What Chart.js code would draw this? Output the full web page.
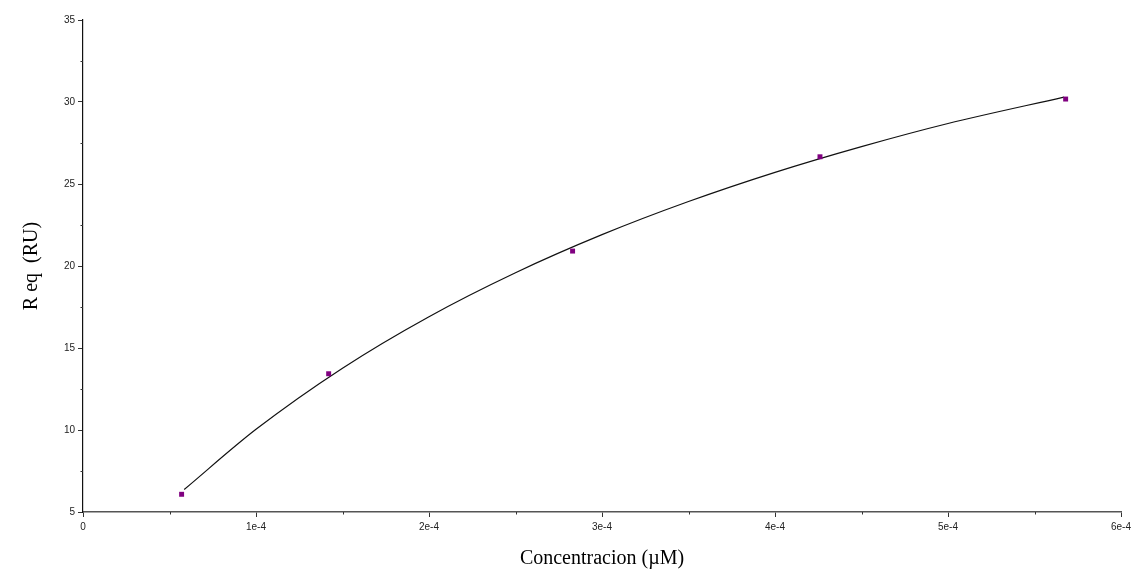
<!DOCTYPE html>
<html>
<head>
<meta charset="utf-8">
<script src="https://cdn.jsdelivr.net/npm/chart.js@4"></script>
<style>
html,body{margin:0;padding:0;background:#fff;}
#wrap{width:1132px;height:574px;position:relative;}
</style>
</head>
<body>
<div id="wrap"><canvas id="c" width="1132" height="574"></canvas></div>
<script>
// Measured data points (concentration in M, response in RU)
const pointX = [0.57e-4, 1.42e-4, 2.83e-4, 4.26e-4, 5.68e-4];
const pointY = [6.08, 13.43, 20.91, 26.66, 30.18];
// Fitted curve
const curveX = [0.585e-4, 1e-4, 1.5e-4, 2e-4, 2.5e-4, 3e-4, 3.5e-4, 4e-4, 4.5e-4, 5e-4, 5.67e-4];
const curveY = [6.37, 10.04, 13.77, 16.91, 19.59, 21.91, 23.93, 25.71, 27.28, 28.69, 30.3];
// Axis ticks
const xTicks = [0, 1e-4, 2e-4, 3e-4, 4e-4, 5e-4, 6e-4];
const xTickLabels = ['0', '1e-4', '2e-4', '3e-4', '4e-4', '5e-4', '6e-4'];
const xMinor = [0.5e-4, 1.5e-4, 2.5e-4, 3.5e-4, 4.5e-4, 5.5e-4];
const yTicks = [5, 10, 15, 20, 25, 30, 35];
const yMinor = [7.5, 12.5, 17.5, 22.5, 27.5, 32.5];

const minorTicks = {
  id: 'minorTicks',
  afterDraw(chart) {
    const ctx = chart.ctx, xs = chart.scales.x, ys = chart.scales.y;
    ctx.save();
    ctx.strokeStyle = '#333';
    ctx.lineWidth = 1;
    ctx.beginPath();
    xMinor.forEach(v => {
      const px = Math.round(xs.getPixelForValue(v)) + 0.5;
      ctx.moveTo(px, ys.bottom); ctx.lineTo(px, ys.bottom + 2.5);
    });
    yMinor.forEach(v => {
      const py = Math.round(ys.getPixelForValue(v)) + 0.5;
      ctx.moveTo(xs.left, py); ctx.lineTo(xs.left - 2.5, py);
    });
    ctx.stroke();
    ctx.restore();
  }
};

new Chart(document.getElementById('c'), {
  type: 'scatter',
  data: {
    datasets: [
      {
        data: curveX.map((x, i) => ({x, y: curveY[i]})),
        showLine: true,
        borderColor: '#111',
        borderWidth: 1.2,
        pointRadius: 0,
        cubicInterpolationMode: 'monotone',
        fill: false,
        order: 2
      },
      {
        data: pointX.map((x, i) => ({x, y: pointY[i]})),
        showLine: false,
        pointStyle: 'rect',
        pointRadius: 3.5,
        backgroundColor: '#800080',
        borderColor: '#800080',
        borderWidth: 0,
        order: 1
      }
    ]
  },
  options: {
    responsive: false,
    animation: false,
    layout: { padding: { top: 20, right: 11, left: 0, bottom: 0 } },
    plugins: { legend: { display: false }, tooltip: { enabled: false } },
    scales: {
      x: {
        type: 'linear',
        min: 0, max: 6e-4,
        afterBuildTicks(scale) { scale.ticks = xTicks.map(v => ({value: v})); },
        afterFit(scale) { scale.height = 62; scale.paddingRight = 0; scale.paddingLeft = 0; },
        border: { display: true, color: '#555', width: 1.5 },
        grid: { display: true, drawOnChartArea: false, drawTicks: true, tickLength: 5, tickColor: '#333', lineWidth: 1 },
        ticks: {
          padding: 4,
          maxRotation: 0,
          color: '#222',
          font: { family: '"Liberation Sans", Arial, sans-serif', size: 10 },
          callback(v) { const i = xTicks.findIndex(t => Math.abs(t - v) < 1e-9); return i >= 0 ? xTickLabels[i] : ''; }
        },
        title: {
          display: true,
          text: 'Concentracion (\u00b5M)',
          color: '#000',
          font: { family: '"Liberation Serif", "Times New Roman", serif', size: 20 },
          padding: { top: 0, bottom: 3 }
        }
      },
      y: {
        type: 'linear',
        min: 5, max: 35,
        afterBuildTicks(scale) { scale.ticks = yTicks.map(v => ({value: v})); },
        afterFit(scale) { scale.width = 83; },
        border: { display: true, color: '#111', width: 1.2 },
        grid: { display: true, drawOnChartArea: false, drawTicks: true, tickLength: 5, tickColor: '#333', lineWidth: 1 },
        ticks: {
          padding: 3,
          color: '#222',
          font: { family: '"Liberation Sans", Arial, sans-serif', size: 10 }
        },
        title: {
          display: true,
          text: 'R eq  (RU)',
          color: '#000',
          font: { family: '"Liberation Serif", "Times New Roman", serif', size: 20 },
          padding: { top: 20, bottom: 0 }
        }
      }
    }
  },
  plugins: [minorTicks]
});
</script>
</body>
</html>
